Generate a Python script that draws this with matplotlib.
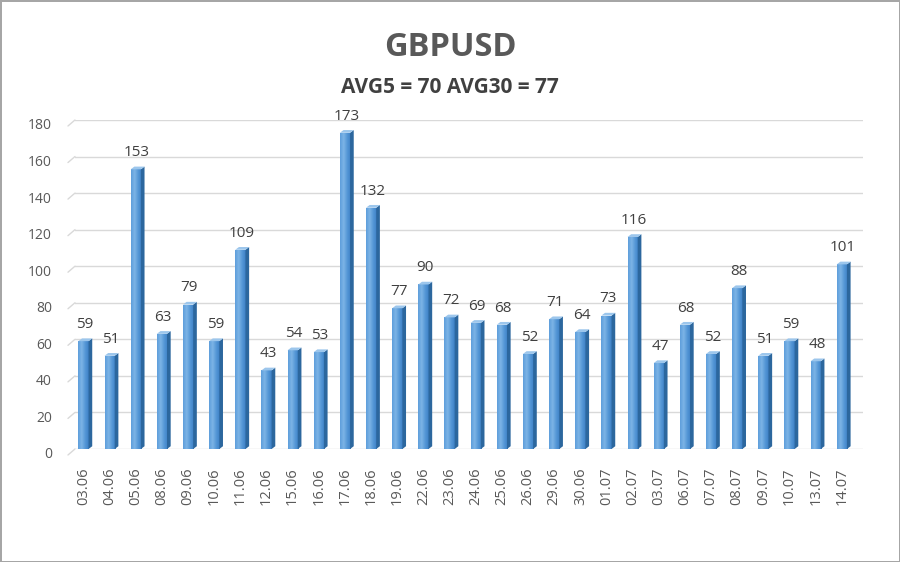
import numpy as np
import matplotlib
matplotlib.use('Agg')
import matplotlib.pyplot as plt
import matplotlib.transforms as mtransforms
from matplotlib.patches import Polygon

dates = ['03.06', '04.06', '05.06', '08.06', '09.06', '10.06', '11.06', '12.06',
         '15.06', '16.06', '17.06', '18.06', '19.06', '22.06', '23.06', '24.06',
         '25.06', '26.06', '29.06', '30.06', '01.07', '02.07', '03.07', '06.07',
         '07.07', '08.07', '09.07', '10.07', '13.07', '14.07']
values = [59, 51, 153, 63, 79, 59, 109, 43, 54, 53, 173, 132, 77, 90, 72, 69,
          68, 52, 71, 64, 73, 116, 47, 68, 52, 88, 51, 59, 48, 101]
title = 'GBPUSD'
subtitle = 'AVG5 = 70 AVG30 = 77'
y_ticks = list(range(0, 181, 20))

plt.rcParams['font.family'] = ['Open Sans', 'DejaVu Sans']
text_col = '#404040'
grid_col = '#d9d9d9'

fig = plt.figure(figsize=(9, 5.62), dpi=100)
fig.patch.set_facecolor('white')
fig.patch.set_edgecolor('#a6a6a6')
fig.patch.set_linewidth(2)

ax = fig.add_axes([0.0833, 0.2011, 0.8756, 0.5854])
x = np.arange(len(values))
ax.set_xlim(-0.325, len(values) - 0.19)
ax.set_ylim(0, 180)

# grid lines with a small perspective slant at the left, labels at the front end
trans = mtransforms.blended_transform_factory(ax.transAxes, ax.transData)
for v in y_ticks:
    ax.axhline(v, color=grid_col, lw=1.0, zorder=0)
    ax.annotate('', xy=(0, v), xycoords=trans, xytext=(-7, -6),
                textcoords='offset pixels',
                arrowprops=dict(arrowstyle='-', color=grid_col, lw=1.0,
                                shrinkA=0, shrinkB=0))
    ax.annotate(str(v), xy=(0, v), xycoords=trans, xytext=(-23, -6),
                textcoords='offset pixels', ha='right', va='center',
                fontsize=10, color='#595959')

w = 0.39
side = 0.14
lift = 1.5
grad = np.linspace(0, 1, 64).reshape(1, -1)
cmap = matplotlib.colors.LinearSegmentedColormap.from_list(
    'b', ['#5e9edb', '#7cb4e6', '#5597d6', '#3d80c5'])
bars = ax.bar(x, values, width=w, color='#5d9bd6', zorder=3, linewidth=0)
for xi, v, b in zip(x, values, bars):
    im = ax.imshow(grad, extent=[xi - w / 2, xi + w / 2, 0, v], aspect='auto',
                   cmap=cmap, zorder=3.1)
    im.set_clip_path(b)
    # side face
    ax.add_patch(Polygon([[xi + w / 2, 0], [xi + w / 2 + side, lift],
                          [xi + w / 2 + side, v + lift], [xi + w / 2, v]],
                         closed=True, facecolor='#2c679e', edgecolor='none', zorder=3.2))
    # top face
    ax.add_patch(Polygon([[xi - w / 2, v], [xi - w / 2 + side, v + lift],
                          [xi + w / 2 + side, v + lift], [xi + w / 2, v]],
                         closed=True, facecolor='#9cc6ec', edgecolor='none', zorder=3.2))
    ax.text(xi + 0.05, v + 5, str(v), ha='center', va='bottom', fontsize=11, color=text_col)

ax.set_yticks(y_ticks)
ax.set_yticklabels([])
ax.set_xticks(x)
ax.set_xticklabels(dates, rotation=90, fontsize=10.5, color='#595959')
ax.tick_params(axis='y', length=0)
ax.tick_params(axis='x', length=0, pad=13)
for s in ax.spines.values():
    s.set_visible(False)

fig.text(0.5, 0.915, title, ha='center', va='center', fontsize=23.5, fontweight='bold', color='#595959')
fig.text(0.5, 0.845, subtitle, ha='center', va='center', fontsize=15, fontweight='bold', color=text_col)

fig.savefig('out.png', dpi=100)
